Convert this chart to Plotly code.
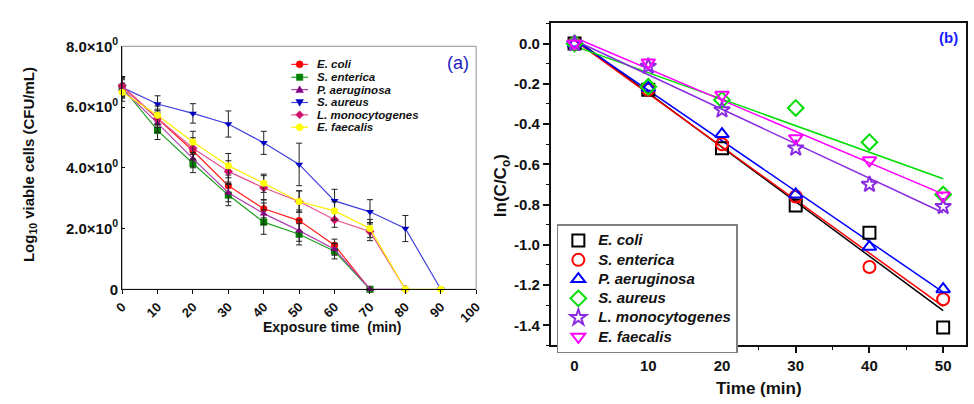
import numpy as np
import plotly.graph_objects as go

W, H = 974, 404
FONT = "Liberation Sans, Arial, sans-serif"

# ---------------- data: panel (a) ----------------
time_a = [0, 10, 20, 30, 40, 50, 60, 70, 80, 90]
species = ["E. coli", "S. enterica", "P. aeruginosa", "S. aureus", "L. monocytogenes", "E. faecalis"]
ecoli_a = [6.67, 5.63, 4.56, 3.41, 2.65, 2.26, 1.45, 0, None, None]
senterica_a = [6.65, 5.23, 4.14, 3.10, 2.21, 1.81, 1.25, 0, None, None]
paeruginosa_a = [6.60, 5.47, 4.30, 3.18, 2.49, 1.93, 1.32, 0, 0, None]
saureus_a = [6.65, 6.10, 5.79, 5.44, 4.82, 4.11, 2.91, 2.55, 2.00, 0]
lmono_a = [6.70, 5.63, 4.64, 3.88, 3.34, 2.89, 2.29, 1.90, 0, None]
efaecalis_a = [6.49, 5.73, 4.85, 4.07, 3.49, 2.89, 2.58, 2.00, 0, 0]

ecoli_err = [0.30, 0.25, 0.30, 0.35, 0.30, 0.35, 0.20, 0, 0, 0]
senterica_err = [0.30, 0.30, 0.30, 0.35, 0.40, 0.35, 0.25, 0, 0, 0]
paeruginosa_err = [0.30, 0.30, 0.30, 0.30, 0.35, 0.35, 0.20, 0, 0, 0]
saureus_err = [0.35, 0.27, 0.32, 0.43, 0.38, 0.70, 0.38, 0.40, 0.43, 0]
lmono_err = [0.30, 0.30, 0.35, 0.35, 0.40, 0.35, 0.25, 0.30, 0, 0]
efaecalis_err = [0.30, 0.30, 0.35, 0.40, 0.30, 0.35, 0.30, 0.30, 0, 0]

ytick_vals_a = [0, 2, 4, 6, 8]
ytick_text_a = ["0", "2.0×10<sup>0</sup>", "4.0×10<sup>0</sup>", "6.0×10<sup>0</sup>", "8.0×10<sup>0</sup>"]
xtick_vals_a = [0, 10, 20, 30, 40, 50, 60, 70, 80, 90, 100]

# ---------------- data: panel (b) ----------------
time_b = [0, 10, 20, 30, 40, 50]
ecoli_b = [0.0, -0.23, -0.52, -0.805, -0.94, -1.41]
senterica_b = [0.0, -0.23, -0.50, -0.76, -1.11, -1.27]
paeruginosa_b = [0.0, -0.22, -0.45, -0.75, -1.01, -1.22]
saureus_b = [0.0, -0.215, -0.28, -0.32, -0.49, -0.75]
lmono_b = [0.0, -0.113, -0.33, -0.52, -0.70, -0.81]
efaecalis_b = [0.0, -0.094, -0.255, -0.47, -0.58, -0.755]
ytick_vals_b = [0.0, -0.2, -0.4, -0.6, -0.8, -1.0, -1.2, -1.4]
ytick_text_b = ["0.0", "-0.2", "-0.4", "-0.6", "-0.8", "-1.0", "-1.2", "-1.4"]

def px_x(p):
    return p / W

def px_y(p):
    return 1 - p / H

fig = go.Figure()

# ---------- panel (a) traces ----------
a_series = [
    (ecoli_a, ecoli_err, "#ff0000", "#ff2020", "circle"),
    (senterica_a, senterica_err, "#008000", "#20a020", "square"),
    (paeruginosa_a, paeruginosa_err, "#800080", "#b040b0", "triangle-up"),
    (saureus_a, saureus_err, "#0000c0", "#4040e0", "triangle-down"),
    (lmono_a, lmono_err, "#d0106a", "#e85090", "diamond"),
    (efaecalis_a, efaecalis_err, "#ffff00", "#ffee00", "circle"),
]
for name, (vals, err, mcol, lcol, sym) in zip(species, a_series):
    fig.add_trace(go.Scatter(
        x=time_a, y=vals, mode="lines+markers", name=name, showlegend=False,
        line=dict(color=lcol, width=1.2), connectgaps=False,
        marker=dict(symbol=sym, color=mcol, size=7),
        error_y=dict(type="data", array=err, color="#222222", thickness=1, width=3),
        cliponaxis=False, xaxis="x", yaxis="y",
    ))

# ---------- panel (b) traces ----------
b_series = [
    (ecoli_b, "#000000", "square-open"),
    (senterica_b, "#ff0000", "circle-open"),
    (paeruginosa_b, "#0000ff", "triangle-up-open"),
    (saureus_b, "#00dd00", "diamond-open"),
    (lmono_b, "#8a2be2", "star-open"),
    (efaecalis_b, "#ff00ff", "triangle-down-open"),
]
for name, (vals, col, sym) in zip(species, b_series):
    slope, icpt = np.polyfit(time_b, vals, 1)
    xs = [time_b[0], time_b[-1]]
    fig.add_trace(go.Scatter(
        x=xs, y=[icpt + slope * xv for xv in xs], mode="lines", showlegend=False,
        line=dict(color=col, width=1.5), xaxis="x2", yaxis="y2", hoverinfo="skip",
    ))
for name, (vals, col, sym) in zip(species, b_series):
    fig.add_trace(go.Scatter(
        x=time_b, y=vals, mode="markers", name="<span style='font-size:15px'>" + name + "</span>",
        marker=dict(symbol=sym, size=12, color=col, line=dict(color=col, width=2)),
        cliponaxis=False, xaxis="x2", yaxis="y2",
    ))

shapes = []
annotations = []

# gray frame of panel (a)
shapes.append(dict(type="rect", xref="x domain", yref="y domain", x0=0, x1=1, y0=0, y1=1,
                   line=dict(color="#909090", width=1), layer="below"))

# manual legend for panel (a)
leg_y = [56, 69.5, 82.5, 96, 109, 122]
for i, (name, (vals, err, mcol, lcol, sym)) in enumerate(zip(species, a_series)):
    yc = px_y(leg_y[i])
    shapes.append(dict(type="line", xref="paper", yref="paper", x0=px_x(287), x1=px_x(304),
                       y0=yc, y1=yc, line=dict(color=lcol, width=1.2)))
    common = dict(xref="paper", yref="paper", xsizemode="pixel", ysizemode="pixel",
                  xanchor=px_x(295.5), yanchor=yc, fillcolor=mcol, line=dict(color=mcol, width=0.5))
    if sym == "circle":
        shapes.append(dict(type="circle", x0=-3.5, x1=3.5, y0=-3.5, y1=3.5, **common))
    elif sym == "square":
        shapes.append(dict(type="rect", x0=-3.2, x1=3.2, y0=-3.2, y1=3.2, **common))
    elif sym == "triangle-up":
        shapes.append(dict(type="path", path="M-3.8,-3 L3.8,-3 L0,3.8 Z", **common))
    elif sym == "triangle-down":
        shapes.append(dict(type="path", path="M-3.8,3 L3.8,3 L0,-3.8 Z", **common))
    elif sym == "diamond":
        shapes.append(dict(type="path", path="M0,-4 L4,0 L0,4 L-4,0 Z", **common))
    annotations.append(dict(xref="paper", yref="paper", x=px_x(311), y=yc, xanchor="left",
                            yanchor="middle", text=name, showarrow=False,
                            font=dict(family=FONT, size=11.5, weight="bold", style="italic", color="#111111")))

# titles / labels
annotations += [
    dict(xref="paper", yref="paper", x=px_x(21), y=px_y(161), text="Log<sub>10</sub> viable cells (CFU/mL)",
         textangle=-90, showarrow=False, xanchor="center", yanchor="middle",
         font=dict(family=FONT, size=15, weight="bold", color="#111111")),
    dict(xref="paper", yref="paper", x=px_x(328), y=px_y(332), text="Exposure time&nbsp; (min)",
         showarrow=False, xanchor="center", yanchor="middle",
         font=dict(family=FONT, size=14, weight="bold", color="#111111")),
    dict(xref="paper", yref="paper", x=px_x(457), y=px_y(55), text="(a)",
         showarrow=False, xanchor="center", yanchor="middle",
         font=dict(family=FONT, size=18, color="#1c1cc0")),
    dict(xref="paper", yref="paper", x=px_x(502), y=px_y(183), text="ln(C/C<sub>o</sub>)",
         textangle=-90, showarrow=False, xanchor="center", yanchor="middle",
         font=dict(family=FONT, size=17, weight="bold", color="#111111")),
    dict(xref="paper", yref="paper", x=px_x(763), y=px_y(396), text="Time (min)",
         showarrow=False, xanchor="center", yanchor="middle",
         font=dict(family=FONT, size=17, weight="bold", color="#111111")),
    dict(xref="paper", yref="paper", x=px_x(955), y=px_y(28), text="(b)",
         showarrow=False, xanchor="center", yanchor="middle",
         font=dict(family=FONT, size=15, weight="bold", color="#1a1aff")),
]

tickfont_a = dict(family=FONT, size=15, weight="bold", color="#111111")
tickfont_b = dict(family=FONT, size=15, weight="bold", color="#111111")

fig.update_layout(
    width=W, height=H, margin=dict(l=0, r=0, t=0, b=0),
    paper_bgcolor="white", plot_bgcolor="white",
    font=dict(family=FONT),
    shapes=shapes, annotations=annotations,
    xaxis=dict(domain=[px_x(115), px_x(475)], range=[0, 100], tickvals=xtick_vals_a,
               ticks="outside", ticklen=4, tickcolor="#111111", showline=True, linecolor="#111111",
               linewidth=1, showgrid=False, zeroline=False, tickangle=-45,
               tickfont=dict(family=FONT, size=13, weight="bold", color="#111111"),
               anchor="y"),
    yaxis=dict(domain=[px_y(292), px_y(37)], range=[0, 8], tickvals=ytick_vals_a, ticktext=ytick_text_a,
               ticks="inside", ticklen=3, tickcolor="#111111", showline=True, linecolor="#111111",
               linewidth=1, showgrid=False, zeroline=False, tickfont=tickfont_a, anchor="x"),
    xaxis2=dict(domain=[px_x(551), px_x(973)], range=[-3.2, 53.1], tickvals=[0, 10, 20, 30, 40, 50],
                ticks="outside", ticklen=6, tickwidth=1.5, tickcolor="#111111",
                minor=dict(dtick=5, tick0=0, ticks="outside", ticklen=3, tickwidth=1.2, tickcolor="#111111"),
                showline=True, mirror=True, linecolor="#111111", linewidth=2,
                showgrid=False, zeroline=False, tickfont=tickfont_b, anchor="y2"),
    yaxis2=dict(domain=[px_y(351), px_y(13)], range=[-1.5, 0.1], tickvals=ytick_vals_b, ticktext=ytick_text_b,
                ticks="outside", ticklen=6, tickwidth=1.5, tickcolor="#111111",
                minor=dict(dtick=0.1, tick0=0, ticks="outside", ticklen=3, tickwidth=1.2, tickcolor="#111111"),
                showline=True, mirror=True, linecolor="#111111", linewidth=2,
                showgrid=False, zeroline=False, tickfont=tickfont_b, anchor="x2"),
    legend=dict(x=px_x(557), y=px_y(224), xanchor="left", yanchor="top",
                bgcolor="white", bordercolor="#808080", borderwidth=1.5,
                font=dict(family=FONT, size=12.5, weight="bold", style="italic", color="#111111"),
                tracegroupgap=0),
)

fig.write_html("out.html")
